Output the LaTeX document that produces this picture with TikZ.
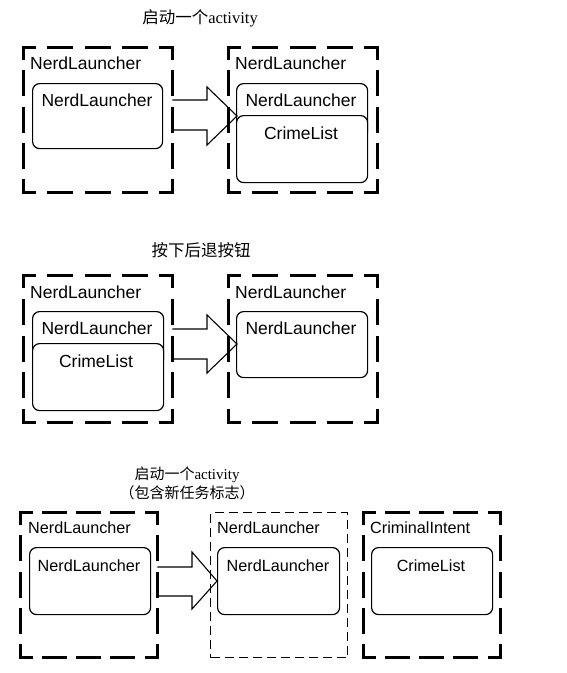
\documentclass[tikz,border=0pt]{standalone}
\usepackage{fontspec}
\setmainfont{Liberation Serif}
\setsansfont{Liberation Sans}
\newfontfamily\cjk{Noto Sans CJK SC}
\begin{document}
\begin{tikzpicture}[x=1pt,y=-1pt,
  dbox/.style={inner sep=0pt, anchor=north west},
  dside/.style n args={3}{line width=3pt, line cap=rect, dash pattern=on #1 off #2, dash phase=#3},
  tbox/.style={draw, line width=1.1pt, dash pattern=on 9pt off 5pt, inner sep=0pt, anchor=north west},
  ibox/.style={draw, line width=1.2pt, rounded corners=7pt, fill=white, inner sep=0pt, anchor=north west},
  lbl/.style={font=\sffamily\fontsize{17.5}{20}\selectfont, inner sep=0pt},
  lbls/.style={font=\sffamily\fontsize{16.2}{19}\selectfont, inner sep=0pt},
  ttl/.style={font=\fontsize{16.5}{19}\selectfont, inner sep=0pt},
  ttls/.style={font=\fontsize{15}{18}\selectfont, inner sep=0pt},
  blockarrow/.style={draw, line width=1.1pt, line join=miter}
]
\useasboundingbox (0,0) rectangle (566,673);

% ---------- Panel 1 ----------
\node[ttl] (T1) at (200,18) {{\cjk 启动一个}activity};
\node[dbox, minimum width=149pt, minimum height=145pt] (A1) at (23,47) {};
\node[lbl, anchor=west] (A1l) at (30,63) {NerdLauncher};
\node[ibox, minimum width=130pt, minimum height=65pt] (A1i) at (32,83) {};
\node[lbl] (A1it) at (97,100) {NerdLauncher};

\node[dbox, minimum width=149pt, minimum height=145pt] (B1) at (228,47) {};
\node[lbl, anchor=west] (B1l) at (235,63) {NerdLauncher};
\node[ibox, minimum width=131pt, minimum height=55pt] (B1a) at (236,83) {};
\node[lbl] (B1at) at (301,100) {NerdLauncher};
\node[ibox, minimum width=131pt, minimum height=67pt] (B1b) at (236,115) {};
\node[lbl] (B1bt) at (301,133) {CrimeList};

\coordinate (S1) at (A1.east |- 0,100);
\coordinate (S1b) at (A1.east |- 0,130);
\coordinate (P1) at (237,116);
\draw[blockarrow] (S1) -- (207,100) -- (207,87) -- (P1) -- (207,145) -- (207,130) -- (S1b);

% ---------- Panel 2 ----------
\node[ttl] (T2) at (201,250) {\cjk 按下后退按钮};
\node[dbox, minimum width=149pt, minimum height=147pt] (A2) at (23,275) {};
\node[lbl, anchor=west] (A2l) at (30,292) {NerdLauncher};
\node[ibox, minimum width=131pt, minimum height=55pt] (A2a) at (32,311) {};
\node[lbl] (A2at) at (97,328) {NerdLauncher};
\node[ibox, minimum width=131pt, minimum height=67pt] (A2b) at (32,343) {};
\node[lbl] (A2bt) at (96,361) {CrimeList};

\node[dbox, minimum width=149pt, minimum height=147pt] (B2) at (228,275) {};
\node[lbl, anchor=west] (B2l) at (235,292) {NerdLauncher};
\node[ibox, minimum width=131pt, minimum height=66pt] (B2i) at (236,311) {};
\node[lbl] (B2it) at (301,328) {NerdLauncher};

\coordinate (S2) at (A2.east |- 0,329);
\coordinate (S2b) at (A2.east |- 0,359);
\coordinate (P2) at (237,344);
\draw[blockarrow] (S2) -- (207,329) -- (207,315) -- (P2) -- (207,373) -- (207,359) -- (S2b);

% ---------- Panel 3 ----------
\node[ttls] (T3a) at (187,475) {{\cjk 启动一个}activity};
\node[ttls] (T3b) at (187,493) {\cjk （包含新任务标志）};

\node[dbox, minimum width=137pt, minimum height=145pt] (A3) at (20,512) {};
\node[lbls, anchor=west] (A3l) at (28,528) {NerdLauncher};
\node[ibox, minimum width=121pt, minimum height=67pt] (A3i) at (29,547) {};
\node[lbls] (A3it) at (89,566) {NerdLauncher};

\node[tbox, minimum width=137pt, minimum height=145pt] (B3) at (210,512) {};
\node[lbls, anchor=west] (B3l) at (217,528) {NerdLauncher};
\node[ibox, minimum width=122pt, minimum height=67pt] (B3i) at (217,547) {};
\node[lbls] (B3it) at (278,566) {NerdLauncher};

\node[dbox, minimum width=137pt, minimum height=145pt] (C3) at (363,512) {};
\node[lbls, anchor=west] (C3l) at (370,528) {CriminalIntent};
\node[ibox, minimum width=121pt, minimum height=67pt] (C3i) at (371,547) {};
\node[lbls] (C3it) at (431,566) {CrimeList};

\coordinate (S3) at (A3.east |- 0,567);
\coordinate (S3b) at (A3.east |- 0,596);
\coordinate (P3) at (B3i.west |- 0,581);
\draw[blockarrow] (S3) -- (192,567) -- (192,552) -- (P3) -- (192,609) -- (192,596) -- (S3b);

% ---------- heavy dashed frames, side by side ----------
\foreach \n/\ha/\hb/\hp/\va/\vb/\vp in {
  A1/23pt/14.25pt/11.5pt/23pt/13.25pt/11.5pt,
  B1/23pt/14.25pt/11.5pt/23pt/13.25pt/11.5pt,
  A2/23pt/14.25pt/11.5pt/23pt/13.75pt/11.5pt,
  B2/23pt/14.25pt/11.5pt/23pt/13.75pt/11.5pt,
  A3/22pt/12.25pt/11pt/23pt/13.25pt/11.5pt,
  C3/22pt/12.25pt/11pt/23pt/13.25pt/11.5pt} {
  \draw[dside={\ha}{\hb}{\hp}] (\n.north west) -- (\n.north east);
  \draw[dside={\ha}{\hb}{\hp}] (\n.south west) -- (\n.south east);
  \draw[dside={\va}{\vb}{\vp}] (\n.north west) -- (\n.south west);
  \draw[dside={\va}{\vb}{\vp}] (\n.north east) -- (\n.south east);
}
\end{tikzpicture}
\end{document}
